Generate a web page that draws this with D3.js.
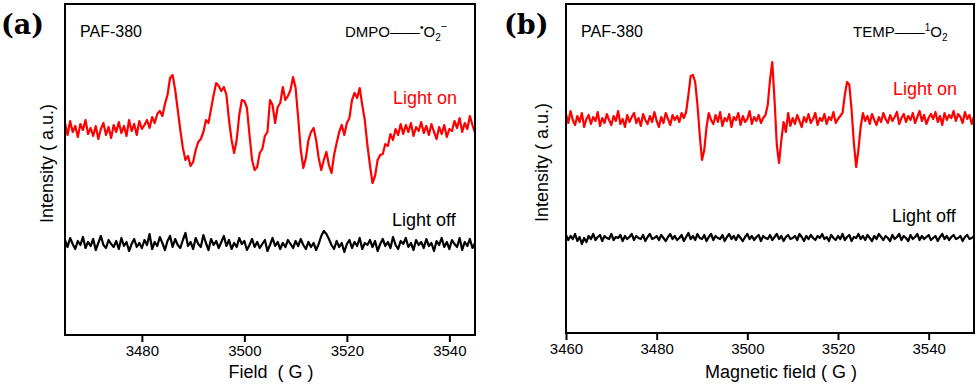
<!DOCTYPE html>
<html>
<head>
<meta charset="utf-8">
<script src="https://cdn.jsdelivr.net/npm/d3@7"></script>
<style>
	body { margin:0; background:#fff; }
	text { font-family: "Liberation Sans", Arial, sans-serif; }
</style>
</head>
<body>
<div id="svgContainer"></div>
<script>
// EPR spectra, PAF-380. intensities in a.u., sampled every 0.5 G

var fieldA = d3.range(3465, 3545.25, 0.5); // panel (a) field grid
var fieldB = d3.range(3460, 3550.25, 0.5); // panel (b) field grid

var ticksA = [3480, 3500, 3520, 3540];
var ticksB = [3460, 3480, 3500, 3520, 3540];

// (a) DMPO - O2 : light on
var onA = [
	212, 200, 214, 203, 209, 198, 211, 205, 215, 201, 207,
	199, 209, 196, 206, 212, 200, 208, 197, 210, 203,
	213, 202, 209, 199, 215, 204, 211, 200, 214, 206,
	210, 215, 207, 218, 212, 221,
	224, 219, 231, 240, 257, 260, 245, 225, 205, 187,
	175, 179, 169, 173, 185, 193, 196, 203, 215, 212,
	226, 240, 252, 249, 244, 248, 240, 215, 195, 182,
	195, 220, 235, 234, 227, 200, 175, 165, 168, 182,
	186, 199, 203, 235, 230, 212, 228, 232, 248, 235,
	239, 245, 258, 247, 217, 185, 167, 177, 195, 203,
	207, 195, 177, 165, 175, 183, 170, 162, 180, 192,
	203, 210, 200, 212, 217, 235, 242, 237, 247, 230,
	215, 190, 170, 152, 159, 175, 180, 181, 191, 189,
	201, 195, 206, 200, 211,
	201, 210, 203, 212, 199, 208, 204, 213, 202,
	209, 200, 211, 203, 196, 208, 201, 210, 198, 206,
	204, 214, 207, 217, 203, 212, 206, 219, 210, 202
];

// (a) light off
var offA = [
	95, 88, 97, 91, 86, 94, 90, 98, 87, 93,
	89, 96, 85, 92, 99, 90, 87, 95, 91, 88,
	94, 86, 97, 89, 93, 84, 91, 96, 88, 92,
	87, 95, 90, 101, 86, 93, 89, 98, 92, 85,
	94, 99, 88, 96, 90, 87, 95, 102, 89, 93,
	86, 97, 91, 88, 100, 92, 85, 96, 90, 94,
	87, 93, 99, 89, 95, 86, 92, 88, 97, 91,
	94, 85, 90, 96, 88, 93, 87, 91, 95, 84,
	90, 97, 89, 93, 86, 92, 88, 95, 91, 87,
	94, 89, 96, 90, 86, 93, 88, 92, 85, 91,
	99, 104, 101, 96, 90, 86, 94, 88, 92, 83,
	91, 95, 87, 93, 89, 97, 86, 92, 90, 95,
	88, 94, 84, 91, 96, 89, 93, 87, 98, 90,
	86, 94, 91, 97, 88, 92, 85, 95, 90, 93,
	87, 96, 89, 92, 84, 94, 90, 97, 88, 93,
	86, 95, 91, 88, 97, 85, 93, 89, 96, 87, 92
];

// (b) TEMP - 1O2 : light on
var onB = [
	219, 210, 222, 213, 208, 217, 211, 220, 206, 214,
	218, 209, 216, 212, 221, 207, 215, 210, 219, 213,
	208, 217, 212, 222, 209, 214, 206, 218, 211, 216,
	220, 210, 215, 207, 219, 213, 209, 217, 211, 221,
	212, 206, 216, 210, 220, 214, 208, 218, 213, 217,
	211, 220, 215,
	221, 238, 257, 258, 251, 228, 198, 173, 183, 206, 220, 213,
	209, 218, 211, 221, 207, 215, 212, 219, 206, 216,
	213, 220, 208, 217, 211, 214, 222, 209, 216, 212, 218, 210, 215,
	218, 228, 253, 271, 233, 188, 170, 193, 211, 201, 220, 207, 215,
	209, 218, 212, 206, 216, 211, 219, 210, 214, 220,
	208, 215, 212, 219, 209, 216, 213, 221, 210, 214, 217,
	220, 238, 251, 248, 223, 190, 166, 183, 206, 220,
	212, 217, 209, 219, 213, 208, 216, 211, 220, 214,
	210, 218, 212, 216, 221, 209, 215, 219, 211, 217,
	213, 220, 210, 216, 222, 212, 218, 209, 215, 219,
	214, 221, 211, 217, 208, 220, 213, 218, 215, 222,
	212, 219, 216, 210, 221, 214, 218, 209, 217
];

// (b) light off
var offB = [
	98, 93, 97, 94, 99, 92, 96, 89, 95, 91,
	97, 94, 99, 93, 96, 98, 92, 97, 95, 94,
	99, 93, 96, 95, 98, 92, 97, 94, 96, 99,
	93, 97, 95, 94, 98, 92, 96, 99, 94, 95,
	97, 93, 98, 95, 92, 96, 99, 94, 97, 93,
	95, 98, 92, 96, 100, 94, 97, 93, 99, 95,
	94, 98, 92, 96, 99, 93, 97, 95, 94, 98,
	92, 96, 99, 94, 97, 93, 98, 95, 92, 96,
	99, 94, 97, 93, 96, 98, 92, 97, 95, 94,
	98, 93, 96, 99, 94, 97, 92, 96, 98, 94,
	95, 97, 93, 99, 96, 92, 97, 94, 98, 95,
	93, 97, 95, 99, 94, 96, 92, 98, 95, 93,
	97, 94, 99, 93, 96, 98, 92, 96, 95, 99,
	94, 97, 93, 98, 95, 92, 97, 94, 99, 96,
	93, 97, 95, 92, 98, 94, 96, 99, 93, 97,
	95, 92, 98, 94, 96, 99, 93, 97, 94, 96,
	98, 93, 95, 97, 92, 96, 99, 94, 97, 93,
	96, 98, 94, 95, 97, 92, 96, 98, 94, 95, 97
];

var svg = d3.select("#svgContainer").append("svg")
	.attr("width", 979)
	.attr("height", 387);

function zip(xs, ys) {
	return xs.map(function (x, i) { return { x: x, y: ys[i] }; });
}

// one framed panel with two traces
function drawPanel(p) {
	var xScale = d3.scaleLinear().domain(p.xDomain).range([p.left, p.right]);
	var yScale = d3.scaleLinear().domain(p.yDomain).range([p.bottom, p.top]);

	var line = d3.line()
		.x(function (d) { return xScale(d.x); })
		.y(function (d) { return yScale(d.y); })
		.curve(d3.curveLinear);

	var g = svg.append("g");

	g.append("path")
		.datum(zip(p.field, p.off))
		.attr("d", line)
		.attr("fill", "none")
		.attr("stroke", "#000")
		.attr("stroke-width", 2.2)
		.attr("stroke-linejoin", "round");

	g.append("path")
		.datum(zip(p.field, p.on))
		.attr("d", line)
		.attr("fill", "none")
		.attr("stroke", "#ff0000")
		.attr("stroke-width", 2.2)
		.attr("stroke-linejoin", "round");

	// frame
	g.append("rect")
		.attr("x", p.left).attr("y", p.top)
		.attr("width", p.right - p.left).attr("height", p.bottom - p.top)
		.attr("fill", "none").attr("stroke", "#000").attr("stroke-width", 2);

	var xAxis = d3.axisBottom(xScale)
		.tickValues(p.ticks)
		.tickFormat(d3.format("d"))
		.tickSizeInner(7).tickSizeOuter(0).tickPadding(3);
	var ax = g.append("g")
		.attr("transform", "translate(0," + p.bottom + ")")
		.call(xAxis);
	ax.select(".domain").remove();
	ax.selectAll("line").attr("stroke", "#000").attr("stroke-width", 2);
	ax.selectAll("text")
		.attr("fill", "#000")
		.style("font-family", "'Liberation Sans', Arial, sans-serif")
		.style("font-size", "15px");

	g.append("text")
		.attr("x", (p.left + p.right) / 2 + p.xTitleShift)
		.attr("y", 378)
		.attr("text-anchor", "middle")
		.style("font-size", "18px")
		.text(p.xTitle);

	g.append("text")
		.attr("transform", "translate(" + p.yTitleX + "," + ((p.top + p.bottom) / 2 - 6) + ") rotate(-90)")
		.attr("text-anchor", "middle")
		.style("font-size", "18px")
		.text("Intensity\u00a0( a.u.)");

	g.append("text")
		.attr("x", p.letterX).attr("y", 34)
		.style("font-family", "'DejaVu Serif', serif")
		.style("font-weight", "bold")
		.style("font-size", "27px")
		.text(p.letter);

	g.append("text")
		.attr("x", p.left + 15).attr("y", 37)
		.style("font-size", "16px")
		.text("PAF-380");

	g.append("text")
		.attr("x", p.onX).attr("y", p.onY)
		.attr("fill", "#ff0000")
		.style("font-size", "18px")
		.text("Light on");

	g.append("text")
		.attr("x", p.offX).attr("y", p.offY)
		.attr("fill", "#000")
		.style("font-size", "18px")
		.text("Light off");

	p.probe(g.append("text").attr("x", p.probeX).attr("y", 37).style("font-size", "15px"));
}

drawPanel({
	letter: "(a)", letterX: 1,
	left: 65, right: 475, top: 4, bottom: 335,
	xDomain: [3465, 3545], yDomain: [0, 331],
	field: fieldA, on: onA, off: offA, ticks: ticksA,
	xTitle: "Field\u00a0\u00a0( G )", xTitleShift: 1,
	yTitleX: 53,
	onX: 393, onY: 104, offX: 392, offY: 226,
	probeX: 345,
	probe: function (t) {
		t.append("tspan").text("DMPO\u2014\u2014");
		t.append("tspan").attr("dy", -6).style("font-size", "10px").text("\u2022");
		t.append("tspan").attr("dy", 6).text("O");
		t.append("tspan").attr("dy", 4).style("font-size", "10px").text("2");
		t.append("tspan").attr("dy", -11).style("font-size", "11px").text("\u2212");
	}
});

drawPanel({
	letter: "(b)", letterX: 504,
	left: 566, right: 974, top: 4, bottom: 333,
	xDomain: [3460, 3550], yDomain: [0, 329],
	field: fieldB, on: onB, off: offB, ticks: ticksB,
	xTitle: "Magnetic field\u00a0( G )", xTitleShift: 11,
	yTitleX: 548,
	onX: 893, onY: 95, offX: 892, offY: 222,
	probeX: 853,
	probe: function (t) {
		t.append("tspan").text("TEMP\u2014\u2014");
		t.append("tspan").attr("dy", -6).style("font-size", "10px").text("1");
		t.append("tspan").attr("dy", 6).text("O");
		t.append("tspan").attr("dy", 4).style("font-size", "10px").text("2");
	}
});
</script>
</body>
</html>
